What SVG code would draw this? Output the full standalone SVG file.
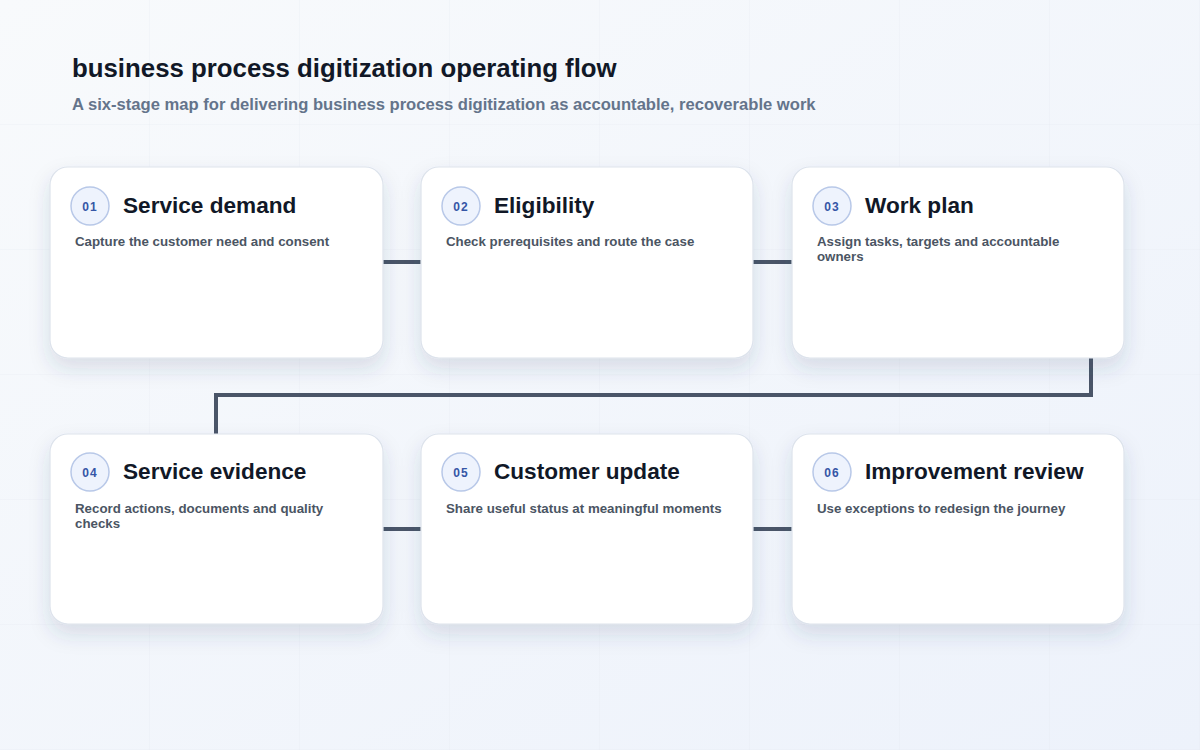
<svg xmlns="http://www.w3.org/2000/svg" width="1200" height="750" viewBox="0 0 1200 750">
<defs>
<linearGradient id="bg" x1="0" y1="0" x2="1" y2="1">
<stop offset="0" stop-color="#f8fafc"/>
<stop offset="1" stop-color="#edf2fb"/>
</linearGradient>
<pattern id="grid" width="150" height="125" patternUnits="userSpaceOnUse">
<path d="M150 0V125M0 125H150" fill="none" stroke="#e3e8f0" stroke-width="1" opacity="0.5"/>
</pattern>
<filter id="sh" x="-20%" y="-20%" width="140%" height="150%">
<feDropShadow dx="0" dy="10" stdDeviation="10" flood-color="#334466" flood-opacity="0.14"/>
</filter>
</defs>
<style>
.card{fill:#ffffff;stroke:#dde3ec;stroke-width:1.2;filter:url(#sh)}
.badge{fill:#eef3fd;stroke:#b8c8e8;stroke-width:1.5}
.num{font-family:"Liberation Sans",Arial,sans-serif;font-size:12px;font-weight:700;fill:#3556a6;text-anchor:middle;letter-spacing:1px}
.ttl{font-family:"Liberation Sans",Arial,sans-serif;font-size:22.6px;font-weight:700;fill:#111827}
.dsc{font-family:"Liberation Sans",Arial,sans-serif;font-size:13.3px;font-weight:700;fill:#4b5563}
.conn{fill:none;stroke:#4a5568;stroke-width:4;stroke-linejoin:miter}
</style>
<rect width="1200" height="750" fill="url(#bg)"/>
<rect width="1200" height="750" fill="url(#grid)"/>
<text x="72" y="77" font-family="Liberation Sans, Arial, sans-serif" font-size="25.8" font-weight="700" fill="#111827">business process digitization operating flow</text>
<text x="72" y="110" font-family="Liberation Sans, Arial, sans-serif" font-size="16.6" font-weight="700" fill="#64748b">A six-stage map for delivering business process digitization as accountable, recoverable work</text>
<g id="connectors">
<path class="conn" d="M383 262H421"/>
<path class="conn" d="M753 262H792"/>
<path class="conn" d="M1091 358V395H216V434"/>
<path class="conn" d="M383 529H421"/>
<path class="conn" d="M753 529H792"/>
</g>
<g id="node-01">
<rect class="card" x="50" y="167" width="333" height="191" rx="18"/>
<circle class="badge" cx="90" cy="206" r="19"/>
<text class="num" x="90" y="210.5">01</text>
<text class="ttl" x="123" y="213">Service demand</text>
<text class="dsc" x="75" y="246">Capture the customer need and consent</text>
</g>
<g id="node-02">
<rect class="card" x="421" y="167" width="332" height="191" rx="18"/>
<circle class="badge" cx="461" cy="206" r="19"/>
<text class="num" x="461" y="210.5">02</text>
<text class="ttl" x="494" y="213">Eligibility</text>
<text class="dsc" x="446" y="246">Check prerequisites and route the case</text>
</g>
<g id="node-03">
<rect class="card" x="792" y="167" width="332" height="191" rx="18"/>
<circle class="badge" cx="832" cy="206" r="19"/>
<text class="num" x="832" y="210.5">03</text>
<text class="ttl" x="865" y="213">Work plan</text>
<text class="dsc" x="817" y="246">Assign tasks, targets and accountable</text>
<text class="dsc" x="817" y="261">owners</text>
</g>
<g id="node-04">
<rect class="card" x="50" y="434" width="333" height="190" rx="18"/>
<circle class="badge" cx="90" cy="472" r="19"/>
<text class="num" x="90" y="476.5">04</text>
<text class="ttl" x="123" y="479">Service evidence</text>
<text class="dsc" x="75" y="513">Record actions, documents and quality</text>
<text class="dsc" x="75" y="528">checks</text>
</g>
<g id="node-05">
<rect class="card" x="421" y="434" width="332" height="190" rx="18"/>
<circle class="badge" cx="461" cy="472" r="19"/>
<text class="num" x="461" y="476.5">05</text>
<text class="ttl" x="494" y="479">Customer update</text>
<text class="dsc" x="446" y="513">Share useful status at meaningful moments</text>
</g>
<g id="node-06">
<rect class="card" x="792" y="434" width="332" height="190" rx="18"/>
<circle class="badge" cx="832" cy="472" r="19"/>
<text class="num" x="832" y="476.5">06</text>
<text class="ttl" x="865" y="479">Improvement review</text>
<text class="dsc" x="817" y="513">Use exceptions to redesign the journey</text>
</g>
</svg>
